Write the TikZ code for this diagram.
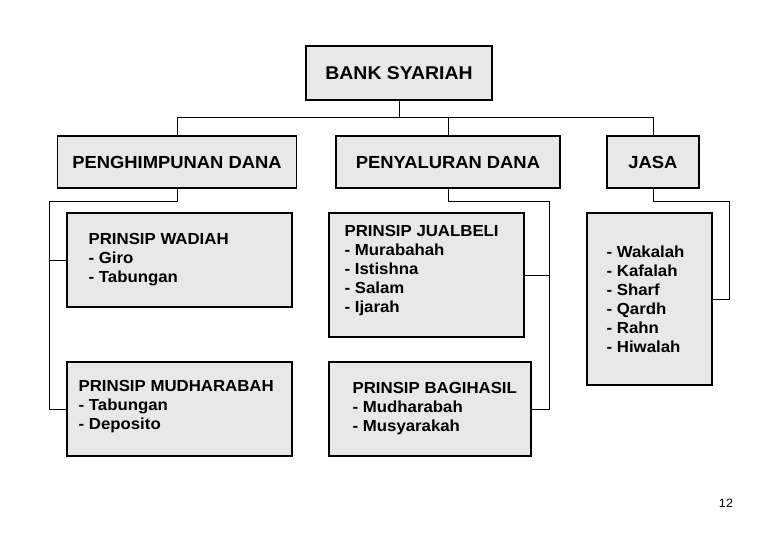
\documentclass[tikz,border=0pt]{standalone}
\usepackage{fontspec}
\setmainfont{Liberation Sans}[FakeStretch=1.05]
\definecolor{abumuda}{RGB}{232,232,232}

\begin{document}
\begin{tikzpicture}[x=1pt,y=-1pt,
    kotak/.style={draw, line width=1.1pt, fill=abumuda, inner sep=0pt},
    judul/.style={font=\fontsize{17.5}{20}\selectfont\bfseries,
        text height=12.5pt, text depth=0pt},
    isi/.style={anchor=west, inner sep=0pt, align=left,
        font=\fontsize{16}{19}\selectfont\bfseries},
    garis/.style={line width=0.9pt}]

\useasboundingbox (0,0) rectangle (780,540);

% Bank Syariah
\node[kotak,
    minimum width=186pt,
    minimum height=54pt,
    text height=13pt, text depth=0pt,
    font=\fontsize{18.5}{21}\selectfont\bfseries] (bank) at (399,73) {BANK SYARIAH};

% Level 2
\node[kotak, judul, minimum width=239pt, minimum height=52pt] (penghimpunan) at (177,162) {PENGHIMPUNAN DANA};
\node[kotak, judul, minimum width=224pt, minimum height=52pt] (penyaluran) at (448,162) {PENYALURAN DANA};
\node[kotak, judul, minimum width=92pt, minimum height=52pt] (jasa) at (653,162) {JASA};

% Penghimpunan dana
\node[kotak, minimum width=225pt, minimum height=94pt] (wadiah) at (179.5,260) {};
\node[isi, xshift=22pt] (wadiahisi) at (wadiah.west) {PRINSIP WADIAH\\- Giro\\- Tabungan};

\node[kotak, minimum width=225pt, minimum height=94pt] (mudharabah) at (179.5,409) {};
\node[isi, xshift=12pt, yshift=2pt] (mudharabahisi) at (mudharabah.west) {PRINSIP MUDHARABAH\\- Tabungan\\- Deposito};

% Penyaluran dana
\node[kotak, minimum width=195pt, minimum height=124pt] (jualbeli) at (426.5,275) {};
\node[isi, xshift=16pt, yshift=4pt] (jualbeliisi) at (jualbeli.west) {PRINSIP JUALBELI\\- Murabahah\\- Istishna\\- Salam\\- Ijarah};

\node[kotak, minimum width=202pt, minimum height=94pt] (bagihasil) at (430,409) {};
\node[isi, xshift=24pt] (bagihasilisi) at (bagihasil.west) {PRINSIP BAGIHASIL\\- Mudharabah\\- Musyarakah};

% Jasa
\node[kotak, minimum width=125pt, minimum height=172pt] (layanan) at (649.5,299) {};
\node[isi, xshift=20pt] (layananisi) at (layanan.west) {- Wakalah\\- Kafalah\\- Sharf\\- Qardh\\- Rahn\\- Hiwalah};

% Connectors
\coordinate (cabang) at (177,117);
\coordinate (cabangkanan) at (653,117);
\coordinate (kiri) at (49,201);
\coordinate (tengah) at (549,201);
\coordinate (kanan) at (729,201);

\draw[garis] (bank.south) -- (bank.south |- cabang);
\draw[garis] (penghimpunan.north) |- (cabangkanan) -- (jasa.north);
\draw[garis] (penyaluran.north) -- (penyaluran.north |- cabang);
\draw[garis] (penghimpunan.south) |- (kiri) |- (mudharabah.west);
\draw[garis] (wadiah.west) -- (wadiah.west -| kiri);
\draw[garis] (penyaluran.south) |- (tengah) |- (bagihasil.east);
\draw[garis] (jualbeli.east) -- (jualbeli.east -| tengah);
\draw[garis] (jasa.south) |- (kanan) |- (layanan.east);

% Page number
\node[font=\fontsize{12}{14}\selectfont] (halaman) at (726,503) {12};

\end{tikzpicture}
\end{document}
